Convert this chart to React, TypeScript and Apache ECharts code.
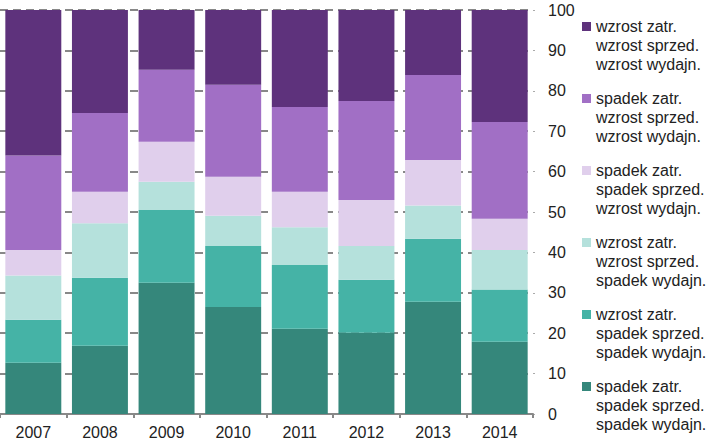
import React, { useEffect, useRef } from "react";
import * as echarts from "echarts";

const categories = ["2007", "2008", "2009", "2010", "2011", "2012", "2013", "2014"];

const seriesNames = [
  "spadek zatr.\nspadek sprzed.\nspadek wydajn.",
  "wzrost zatr.\nspadek sprzed.\nspadek wydajn.",
  "wzrost zatr.\nwzrost sprzed.\nspadek wydajn.",
  "spadek zatr.\nspadek sprzed.\nwzrost wydajn.",
  "spadek zatr.\nwzrost sprzed.\nwzrost wydajn.",
  "wzrost zatr.\nwzrost sprzed.\nwzrost wydajn.",
];

const colors = ["#35877B", "#45B3A6", "#B5E1DC", "#E0CFEC", "#A16FC5", "#5E327C"];

const sSpadekSpadekSpadek = [12.7, 16.9, 32.5, 26.5, 21.1, 20.1, 27.8, 17.9];
const sWzrostSpadekSpadek = [10.6, 16.8, 18.0, 15.1, 15.8, 13.1, 15.6, 12.9];
const sWzrostWzrostSpadek = [11.0, 13.5, 7.0, 7.5, 9.3, 8.4, 8.2, 9.8];
const sSpadekSpadekWzrost = [6.3, 7.8, 9.9, 9.6, 8.8, 11.4, 11.3, 7.7];
const sSpadekWzrostWzrost = [23.4, 19.5, 17.8, 22.8, 21.0, 24.5, 21.0, 24.0];
const sWzrostWzrostWzrost = [36.0, 25.5, 14.8, 18.5, 24.0, 22.5, 16.1, 27.7];

const seriesValues = [
  sSpadekSpadekSpadek,
  sWzrostSpadekSpadek,
  sWzrostWzrostSpadek,
  sSpadekSpadekWzrost,
  sSpadekWzrostWzrost,
  sWzrostWzrostWzrost,
];

const yTicks = { min: 0, max: 100, interval: 10 };

export default function App() {
  const ref = useRef<HTMLDivElement>(null);
  useEffect(() => {
    if (!ref.current) return;
    const chart = echarts.init(ref.current, null, { renderer: "svg" });
    const font = "'Liberation Sans', Arial, sans-serif";
    chart.setOption({
      animation: false,
      textStyle: { fontFamily: font },
      grid: { left: 0, right: 189, top: 10, bottom: 33, containLabel: false },
      legend: {
        orient: "vertical",
        left: 582,
        top: 17,
        padding: 0,
        itemGap: 15,
        itemWidth: 9,
        itemHeight: 47,
        icon: "path://M0,0H9V9H0Z M9,47L9,47",
        selectedMode: false,
        data: seriesNames.slice().reverse(),
        textStyle: {
          fontFamily: font,
          fontSize: 16,
          color: "#222",
          lineHeight: 19,
        },
      },
      xAxis: {
        type: "category",
        data: categories,
        axisLine: { show: true, lineStyle: { color: "#888", width: 2 } },
        axisTick: { show: true, length: 4, lineStyle: { color: "#888", width: 2 } },
        axisLabel: { color: "#222", fontSize: 16, margin: 10, fontFamily: font },
      },
      yAxis: {
        type: "value",
        position: "right",
        min: yTicks.min,
        max: yTicks.max,
        interval: yTicks.interval,
        axisLine: { show: false },
        axisTick: { show: true, length: 2, lineStyle: { color: "#aaa" } },
        axisLabel: { color: "#222", fontSize: 16, margin: 15, fontFamily: font },
        splitLine: {
          show: true,
          lineStyle: { color: "#888", width: 2, type: [8, 5] },
        },
      },
      series: seriesNames.map((name, i) => ({
        name,
        type: "bar",
        stack: "total",
        barCategoryGap: "16%",
        data: seriesValues[i],
        itemStyle: { color: colors[i] },
      })),
    });
    return () => chart.dispose();
  }, []);
  return (
    <div
      ref={ref}
      style={{ position: "fixed", left: 0, top: 0, width: 722, height: 447, background: "#fff" }}
    />
  );
}
